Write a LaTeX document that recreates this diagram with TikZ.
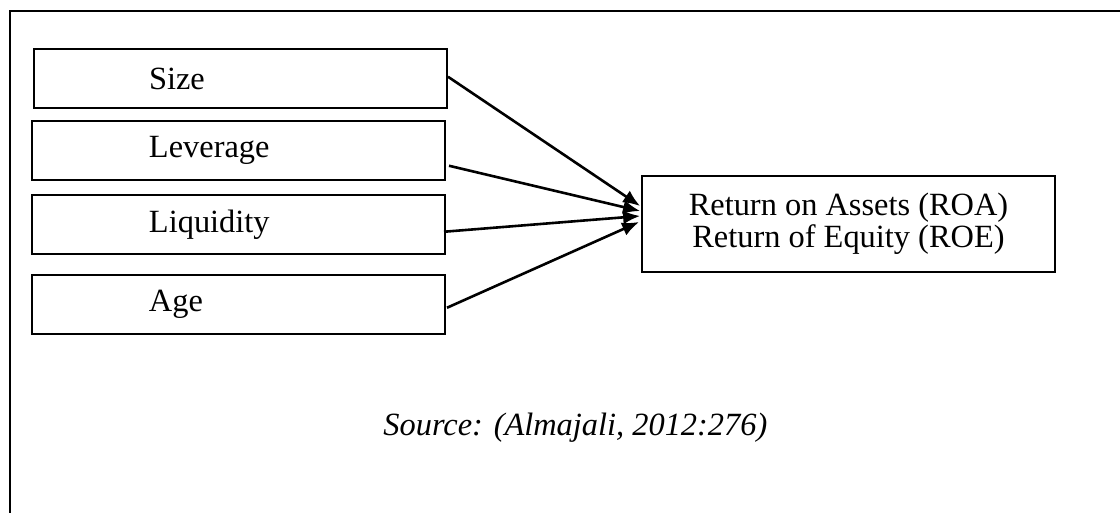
\documentclass[tikz,border=0pt]{standalone}
\usepackage{fontspec}
\setmainfont{Liberation Serif}
\usetikzlibrary{calc,arrows.meta}
\begin{document}
\begin{tikzpicture}[x=0.5pt,y=-0.5pt,
  every node/.style={font=\fontsize{16.2}{14.5}\selectfont},
  varbox/.style={draw,line width=1pt,inner xsep=0pt,inner ysep=0pt,
    text width=206.5pt,minimum height=29.75pt,align=left,anchor=north west},
  outbox/.style={draw,line width=0.9pt,inner sep=0pt,minimum width=206.5pt,
    minimum height=48pt,align=center},
  link/.style={line width=1.3pt,-{Latex[length=8.5pt,width=7pt]}},
  frameline/.style={line width=1pt}]
\useasboundingbox (0,0) rectangle (1120,513);
\draw[frameline] (1120,11) -- (10,11) -- (10,513);

\node[varbox] (size) at (33,48) {\hspace*{57.5pt}Size};
\node[varbox] (lev) at (31,120) {\hspace*{58.5pt}Leverage};
\node[varbox] (liq) at (31,194) {\hspace*{58.5pt}Liquidity};
\node[varbox] (age) at (31,274) {\hspace*{58.5pt}Age};

\node[outbox] (roa) at (848.5,224) {Return on Assets (ROA)\\Return of Equity (ROE)};

\draw[link] ($(size.east)+(0,-2)$) -- ($(roa.west)+(-1,-18)$);
\draw[link] ($(lev.east)+(3,15)$) -- ($(roa.west)+(-1,-13)$);
\draw[link] ($(liq.east)+(-2,7)$) -- ($(roa.west)+(-1,-8)$);
\draw[link] ($(age.east)+(1,3)$) -- ($(roa.west)+(-2,-2)$);

\node[anchor=base west,inner sep=0pt,font=\fontsize{16.2}{14.5}\selectfont\itshape] (src) at (383,436) {Source: (Almajali, 2012:276)};
\end{tikzpicture}
\end{document}
